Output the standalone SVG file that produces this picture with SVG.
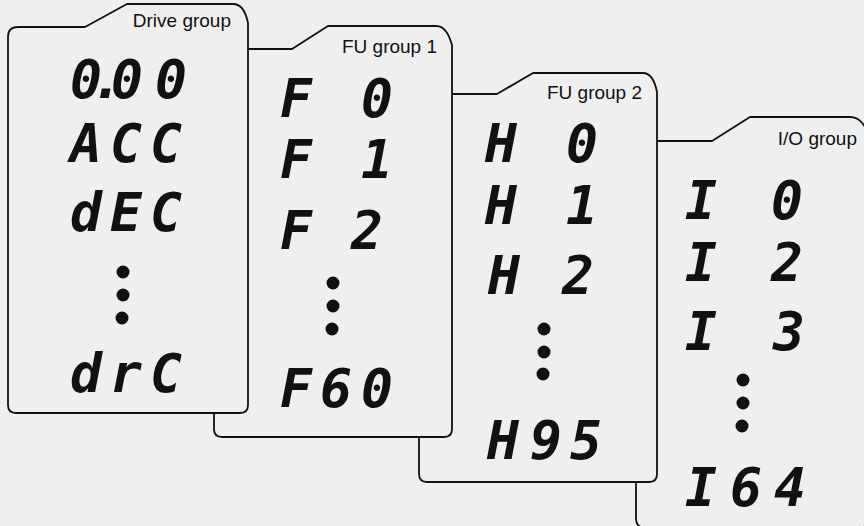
<svg xmlns="http://www.w3.org/2000/svg" width="864" height="526" viewBox="0 0 864 526">
<style>
.card{fill:#efeff0;stroke:#111;stroke-width:1.8;stroke-linejoin:round}
.lbl{font-family:"Liberation Sans",Arial,sans-serif;font-size:19px;fill:#111;text-anchor:end}
.seg{font-family:"DejaVu Sans Mono","Liberation Mono",monospace;font-weight:bold;font-style:oblique;font-size:53px;fill:#111}
.dot{fill:#111}
</style>
<rect width="864" height="526" fill="#efeff0"/>
<g id="io-group">
<path class="card" d="M636,151 Q636,141 646,141 L712,141 L750,117 L850,117 C860,117 866,126 868,136 L868,518 Q868,528 858,528 L646,528 Q636,528 636,518 Z"/>
<text class="lbl" x="857" y="145">I/O group</text>
<text class="seg" x="685 727 771" y="219">I 0</text>
<text class="seg" x="685 727 771" y="281">I 2</text>
<text class="seg" x="685 727 773" y="350">I 3</text>
<circle class="dot" cx="743" cy="380" r="6.5"/>
<circle class="dot" cx="743" cy="403" r="6.5"/>
<circle class="dot" cx="742" cy="426" r="6.5"/>
<text class="seg" x="685 730 774" y="506">I64</text>
</g>
<g id="fu-group-2">
<path class="card" d="M419,104 Q419,94 429,94 L497,94 L533,73 L643,73 C651,73 655,82 657,92 L657,474 Q657,482 649,482 L427,482 Q419,482 419,474 Z"/>
<text class="lbl" x="642" y="99">FU group 2</text>
<text class="seg" x="485 525 566" y="162">H 0</text>
<text class="seg" x="485 525 566" y="224">H 1</text>
<text class="seg" x="488 528 562" y="294">H 2</text>
<circle class="dot" cx="544" cy="329" r="6.5"/>
<circle class="dot" cx="544" cy="352" r="6.5"/>
<circle class="dot" cx="543" cy="374" r="6.5"/>
<text class="seg" x="487 530 570" y="459">H95</text>
</g>
<g id="fu-group-1">
<path class="card" d="M214,59 Q214,49 224,49 L292,49 L328,26 L436,26 C445,26 449,35 452,45 L452,429 Q452,437 444,437 L222,437 Q214,437 214,429 Z"/>
<text class="lbl" x="437" y="53">FU group 1</text>
<text class="seg" x="280 320 361" y="117">F 0</text>
<text class="seg" x="280 320 361" y="178">F 1</text>
<text class="seg" x="280 320 351" y="249">F 2</text>
<circle class="dot" cx="333" cy="283" r="6.5"/>
<circle class="dot" cx="333" cy="306" r="6.5"/>
<circle class="dot" cx="332" cy="329" r="6.5"/>
<text class="seg" x="280 320 361" y="407">F60</text>
</g>
<g id="drive-group">
<path class="card" d="M8,37 Q8,27 18,27 L85,27 L127,4 L233,4 C242,4 246,13 248,23 L248,405 Q248,413 240,413 L16,413 Q8,413 8,405 Z"/>
<text class="lbl" x="231" y="27">Drive group</text>
<text class="seg" x="70 91 111 155" y="98">0.00</text>
<text class="seg" x="70 110 150" y="162">ACC</text>
<text class="seg" x="70 110 150" y="231">dEC</text>
<circle class="dot" cx="123" cy="272" r="6.5"/>
<circle class="dot" cx="123" cy="295" r="6.5"/>
<circle class="dot" cx="122" cy="318" r="6.5"/>
<text class="seg" x="70 110 150" y="392">drC</text>
</g>
</svg>
